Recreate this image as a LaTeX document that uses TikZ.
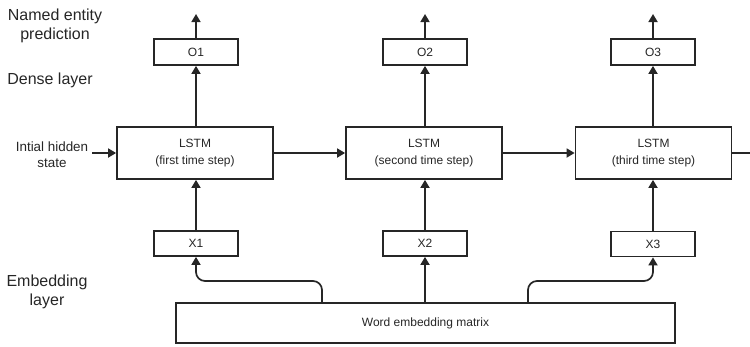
\documentclass[tikz,border=0pt]{standalone}
\usepackage{fontspec}
\setmainfont{Liberation Sans}
\usetikzlibrary{arrows.meta}
\begin{document}
\begin{tikzpicture}[x=1pt,y=-1pt,
  line width=1.7pt,
  every node/.style={text=black!85},
  box/.style={draw=black!85, line width=1.7pt, inner sep=0pt, align=center,
              font=\fontsize{12}{16.5}\selectfont},
  outbox/.style={box, minimum width=84pt, minimum height=26pt},
  inbox/.style={box, minimum width=84pt, minimum height=25pt},
  cell/.style={box, minimum width=156pt, minimum height=52pt},
  lbl/.style={align=center, inner sep=0pt, font=\fontsize{16}{19.5}\selectfont},
  smalllbl/.style={align=center, inner sep=0pt, font=\fontsize{13.4}{16}\selectfont},
  flow/.style={draw=black!85, line width=1.7pt, -{Triangle[width=9pt,length=8pt]}},
  feed/.style={flow, rounded corners=9pt}]
\useasboundingbox (0,0) rectangle (750,346);

% side labels
\node[lbl] (lpred) at (55,26) {Named entity\\prediction};
\node[lbl] (ldense) at (50,80) {Dense layer};
\node[lbl] (lemb) at (47,292) {Embedding\\layer};
\node[smalllbl] (linit) at (52,155) {Intial hidden\\state};

% output (dense) boxes
\node[outbox] (o1) at (196,52) {O1};
\node[outbox] (o2) at (425,52) {O2};
\node[outbox] (o3) at (653,52) {O3};

% LSTM cells
\node[cell] (l1) at (195,153) {LSTM\\(first time step)};
\node[cell] (l2) at (424,153) {LSTM\\(second time step)};
\node[cell] (l3) at (653.5,153) {LSTM\\(third time step)};

% input boxes
\node[inbox] (x1) at (196,243.5) {X1};
\node[inbox] (x2) at (425,243.5) {X2};
\node[inbox] (x3) at (653,244) {X3};

% embedding matrix
\node[box, minimum width=499pt, minimum height=40pt] (wem) at (425.5,323) {Word embedding matrix};

% free ends
\coordinate (p1) at (196,14);
\coordinate (p2) at (425,14);
\coordinate (p3) at (653,14);
\coordinate (hin) at (92,153);
\coordinate (hout) at (758,153);

% predictions
\draw[flow] (o1.north) -- (p1);
\draw[flow] (o2.north) -- (p2);
\draw[flow] (o3.north) -- (p3);
\draw[flow] (l1.north -| o1) -- (o1.south);
\draw[flow] (l2.north -| o2) -- (o2.south);
\draw[flow] (l3.north -| o3) -- (o3.south);

% recurrent state
\draw[flow] (hin) -- (l1.west);
\draw[flow] (l1.east) -- (l2.west);
\draw[flow] (l2.east) -- (l3.west);
\draw[flow] (l3.east) -- (hout);

% inputs into the cells
\draw[flow] (x1.north) -- (x1.north |- l1.south);
\draw[flow] (x2.north) -- (x2.north |- l2.south);
\draw[flow] (x3.north) -- (x3.north |- l3.south);

% embedding lookups
\draw[feed] (wem.north -| 322,0) -- (322,281) -- (196,281) -- (x1.south);
\draw[flow] (wem.north -| x2) -- (x2.south);
\draw[feed] (wem.north -| 528,0) -- (528,281) -- (653,281) -- (x3.south);
\end{tikzpicture}
\end{document}
